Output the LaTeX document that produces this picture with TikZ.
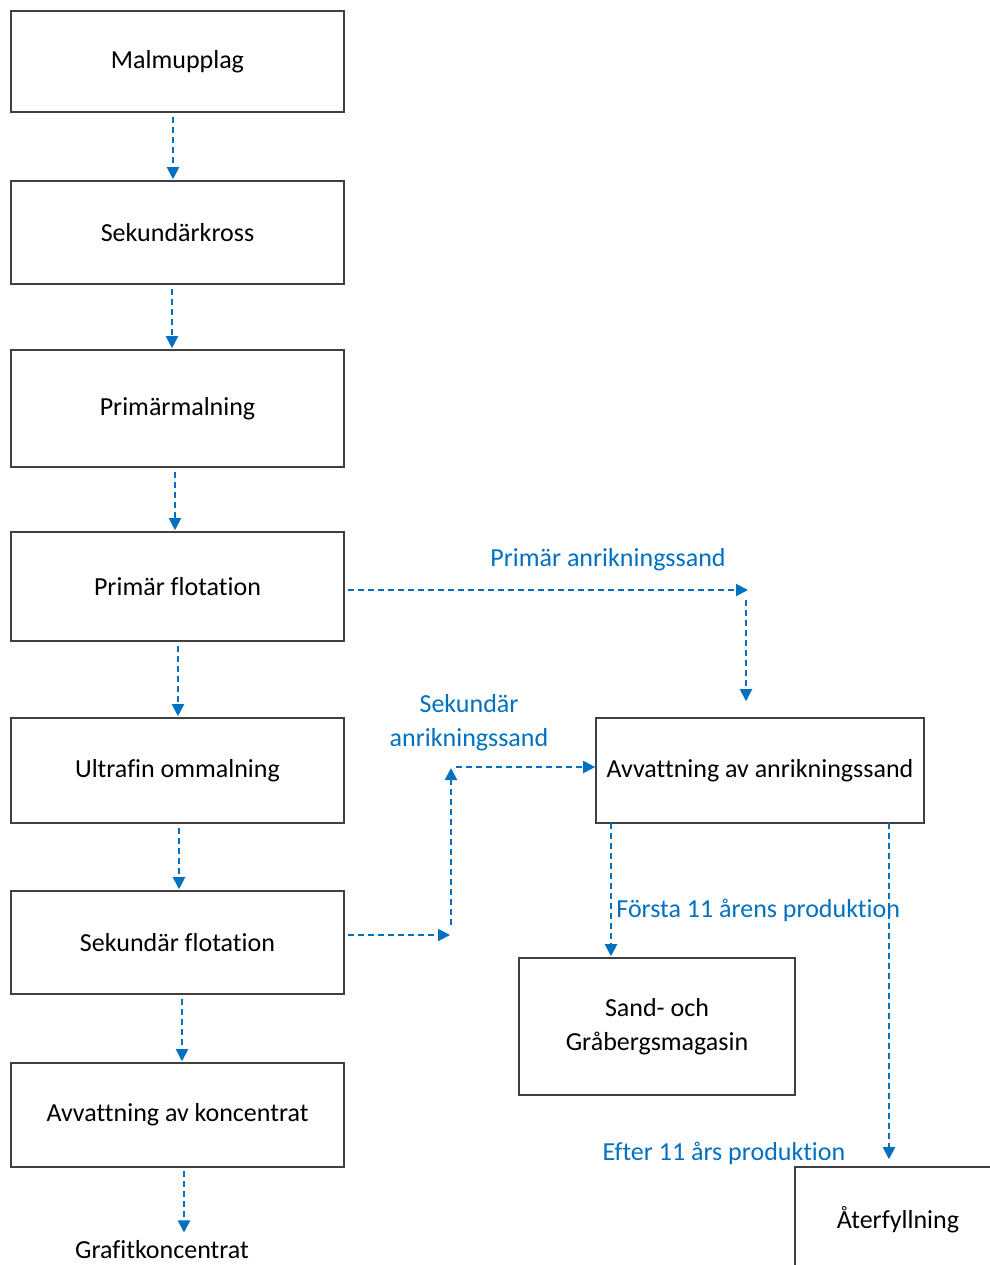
\documentclass[tikz,border=0pt]{standalone}
\usepackage{fontspec}
\setmainfont{Carlito}[Ligatures=NoCommon]
\usepackage{tikz}
\usetikzlibrary{arrows.meta}
\definecolor{flowblue}{HTML}{0070C0}
\tikzset{font=\fontsize{13}{17}\selectfont}
\tikzset{box/.style={draw=black!75, line width=0.8pt, minimum width=166.5pt, align=center, inner sep=0pt}}
\tikzset{flow/.style={flowblue, line width=1pt, dash pattern=on 3pt off 2pt, -{Triangle[length=6pt,width=6pt]}}}
\tikzset{lbl/.style={flowblue, inner sep=0pt, align=center}}

\begin{document}
\begin{tikzpicture}[x=0.5pt,y=-0.5pt]
\useasboundingbox (0,0) rectangle (990,1265);
\clip (0,0) rectangle (990,1265);

\node[box, minimum height=50.5pt] (malm) at (177.5,61.5) {Malmupplag};
\node[box, minimum height=51.5pt] (sekk) at (177.5,232.5) {Sekundärkross};
\node[box, minimum height=58.5pt] (prim) at (177.5,408.5) {Primärmalning};
\node[box, minimum height=54.5pt] (pflot) at (177.5,586.5) {Primär flotation};
\node[box, minimum height=52.5pt] (ultra) at (177.5,770.5) {Ultrafin ommalning};
\node[box, minimum height=51.5pt] (sflot) at (177.5,942.5) {Sekundär flotation};
\node[box, minimum height=52pt] (avkon) at (177.5,1115) {Avvattning av koncentrat};
\node[inner sep=0pt] (grafit) at (162,1250) {Grafitkoncentrat};

\node[box, minimum width=164pt, minimum height=52.5pt] (avsand) at (760,770.5) {Avvattning av anrikningssand};
\node[box, minimum width=138pt, minimum height=68.5pt] (magasin) at (657,1026.5) {Sand- och\\ Gråbergsmagasin};
\node[box, minimum width=103pt, minimum height=53pt] (aterf) at (898,1220) {Återfyllning};

\foreach \a/\b/\d in {malm/sekk/-2.25pt, sekk/prim/-2.75pt, prim/pflot/-1.25pt, pflot/ultra/0.25pt, ultra/sflot/0.75pt, sflot/avkon/2.25pt}{
  \draw[flow, shorten <=2pt, shorten >=0.5pt] ([xshift=\d]\a.south) -- ([xshift=\d]\b.north);
};
\coordinate (g1) at (184,1167);
\draw[flow, shorten <=2pt, shorten >=4pt] (g1) -- (g1 |- grafit.north);

% primar anrikningssand
\coordinate (p1) at (748,590);
\coordinate (p2) at (746,600);
\draw[flow, shorten <=1.5pt] (pflot.east |- p1) -- (p1);
\draw[flow, shorten >=8pt] (p2) -- (p2 |- avsand.north);
\node[lbl] (plbl) at (608,560) {Primär anrikningssand};

% sekundar anrikningssand
\coordinate (s1) at (450,935);
\coordinate (s2) at (451,925);
\coordinate (s3) at (451,768);
\coordinate (s4) at (456,767);
\draw[flow, shorten <=1.5pt] (sflot.east |- s1) -- (s1);
\draw[flow] (s2) -- (s3);
\draw[flow] (s4) -- (s4 -| avsand.west);
\node[lbl] (slbl) at (469,723) {Sekundär\\ anrikningssand};

% till magasin och aterfyllning
\coordinate (f1) at (611,823);
\coordinate (e1) at (889,823);
\draw[flow, shorten >=0.5pt] (f1) -- (f1 |- magasin.north);
\draw[flow, shorten >=3.5pt] (e1) -- (e1 |- aterf.north);
\node[lbl, anchor=west] (flbl) at (616,910) {Första 11 årens produktion};
\node[lbl] (elbl) at (724,1153) {Efter 11 års produktion};
\end{tikzpicture}
\end{document}
